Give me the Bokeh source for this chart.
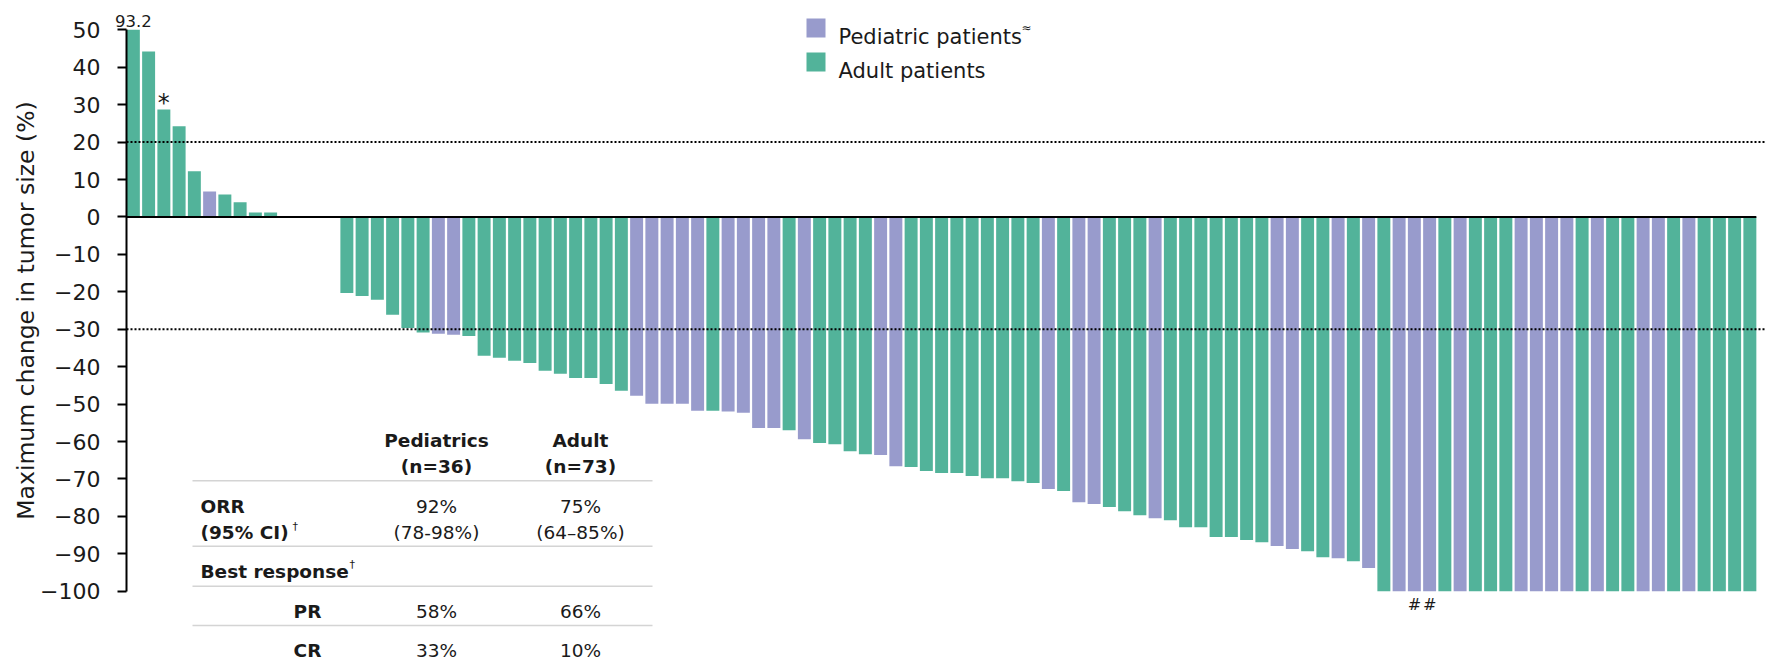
import numpy as np
from bokeh.plotting import figure
from bokeh.models import Range1d, FixedTicker, ColumnDataSource
from bokeh.embed import file_html
from bokeh.resources import INLINE
from bokeh.core.properties import value

# ---- data: best change in tumour size per patient, sorted high to low ----
growth_values = [93.2, 44.2, 28.7, 24.2, 12.2, 6.8, 6.0, 3.9, 1.2, 1.2]
growth_groups = ["A", "A", "A", "A", "A", "P", "A", "A", "A", "A"]

stable_values = [0.0, 0.0, 0.0, 0.0]
stable_groups = ["A", "A", "A", "A"]

shrink_values = [
    -20.3, -21.1, -22.1, -26.1, -29.7, -30.9, -31.2, -31.5, -31.8, -37.1,
    -37.6, -38.4, -39.0, -41.1, -41.9, -43.0, -43.0, -44.6, -46.4, -47.8,
    -49.9, -49.9, -49.9, -51.8, -51.8, -52.0, -52.3, -56.4, -56.4, -57.0,
    -59.4, -60.4, -60.7, -62.6, -63.4, -63.6, -66.6, -66.8, -67.9, -68.4,
    -68.4, -69.2, -69.8, -69.8, -70.6, -71.1, -72.7, -73.2, -76.2, -76.7,
    -77.5, -78.6, -79.7, -80.5, -81.0, -82.9, -82.9, -85.5, -85.5, -86.3,
    -86.9, -87.9, -88.7, -89.3, -90.9, -91.2, -92.0, -93.8, -100, -100,
    -100, -100, -100, -100, -100, -100, -100, -100, -100, -100,
    -100, -100, -100, -100, -100, -100, -100, -100, -100, -100,
    -100, -100, -100,
]
shrink_groups = [
    "A", "A", "A", "A", "A", "A", "P", "P", "A", "A",
    "A", "A", "A", "A", "A", "A", "A", "A", "A", "P",
    "P", "P", "P", "P", "A", "P", "P", "P", "P", "A",
    "P", "A", "A", "A", "A", "P", "P", "A", "A", "A",
    "A", "A", "A", "A", "A", "A", "P", "A", "P", "P",
    "A", "A", "A", "P", "A", "A", "A", "A", "A", "A",
    "A", "P", "P", "A", "A", "P", "A", "P", "A", "P",
    "P", "P", "A", "P", "A", "A", "A", "P", "P", "P",
    "P", "A", "P", "A", "A", "P", "P", "A", "P", "A",
    "A", "A", "A",
]

axis_ticks = [50, 40, 30, 20, 10, 0, -10, -20, -30, -40, -50, -60, -70, -80, -90, -100]
axis_title = "Maximum change in tumor size (%)"
axis_top = 50            # taller bars are cut at the top of the axis
thresholds = [20, -30]   # progression / partial-response cut-offs

starred_patients = [3]        # "*"
hashed_patients = [85, 86]    # "#"

group_names = {"P": "Pediatric patients", "A": "Adult patients"}
group_colors = {"P": "#989BCC", "A": "#52B39A"}

table_header = ["Pediatrics", "Adult"]
table_n = ["(n=36)", "(n=73)"]
orr = ["92%", "75%"]
orr_ci = ["(78-98%)", "(64\u201385%)"]
pr_rate = ["58%", "66%"]
cr_rate = ["33%", "10%"]

# ---- assemble ----
values = np.array(growth_values + stable_values + shrink_values, dtype=float)
groups = growth_groups + stable_groups + shrink_groups
patient = np.arange(1, len(values) + 1)
BAR_W = 0.85
AXIS_X = patient[0] - 0.45   # y axis sits just left of the first bar

src = ColumnDataSource(dict(
    x=patient,
    top=np.minimum(values, axis_top),
    color=[group_colors[g] for g in groups],
))

# frame geometry: the frame covers the whole canvas, the axis is pinned inside it
W, H = 1766, 663
AXIS_PX = 126
PX_PER_X = 15.25
PX_PER_Y = 3.743
X_START = AXIS_X - AXIS_PX / PX_PER_X
X_END = X_START + W / PX_PER_X
Y_END = 50 + 29.3 / PX_PER_Y
Y_START = Y_END - H / PX_PER_Y


def fx(px):
    return X_START + px / PX_PER_X


def fy(py):
    return Y_END - py / PX_PER_Y


FONT = value("DejaVu Sans")
INK = "#1a1a1a"

p = figure(
    width=W, height=H,
    x_range=Range1d(X_START, X_END), y_range=Range1d(Y_START, Y_END),
    x_axis_type=None, output_backend="svg", toolbar_location=None,
    min_border=0,
)
p.outline_line_color = None
p.grid.visible = False
p.background_fill_color = "white"

p.vbar(x="x", top="top", bottom=0, width=BAR_W, source=src,
       fill_color="color", line_color=None)

# zero line under the bars' full extent
p.segment(x0=[AXIS_X], y0=[0], x1=[patient[-1] + BAR_W / 2], y1=[0],
          line_color="black", line_width=2)

# dotted threshold lines from the axis to the right edge
p.segment(x0=[AXIS_X] * len(thresholds), y0=thresholds,
          x1=[X_END] * len(thresholds), y1=thresholds,
          line_color="black", line_width=2, line_dash="2 2")

ax = p.yaxis[0]
ax.fixed_location = AXIS_X
ax.ticker = FixedTicker(ticks=axis_ticks)
ax.bounds = (min(axis_ticks), max(axis_ticks))
ax.axis_line_width = 2
ax.axis_line_color = "black"
ax.major_tick_line_width = 2
ax.major_tick_in = 0
ax.major_tick_out = 9
ax.minor_tick_line_color = None
ax.major_label_standoff = 17
ax.major_label_text_font = "DejaVu Sans"
ax.major_label_text_font_size = "22px"
ax.major_label_text_color = INK

# axis title, centred on the axis bounds
p.text(x=[fx(25)], y=[(max(axis_ticks) + min(axis_ticks)) / 2], text=[axis_title],
       angle=np.pi / 2, text_font=FONT, text_font_size="23.5px", text_color=INK,
       text_align="center", text_baseline="middle")

# value of the truncated bar
over = np.where(values > axis_top)[0]
p.text(x=patient[over], y=[axis_top] * len(over),
       text=[f"{values[i]:.1f}" for i in over],
       text_font=FONT, text_font_size="16.5px", text_color=INK,
       text_align="center", text_baseline="bottom", y_offset=-3)

# footnote markers
star_idx = np.array(starred_patients) - 1
p.text(x=patient[star_idx], y=values[star_idx], text=["*"] * len(star_idx),
       text_font=FONT, text_font_size="24px", text_color=INK,
       text_align="center", text_baseline="alphabetic", y_offset=-7)
hash_idx = np.array(hashed_patients) - 1
p.text(x=patient[hash_idx], y=values[hash_idx], text=["#"] * len(hash_idx),
       text_font=FONT, text_font_size="16px", text_font_style="italic",
       text_color=INK, text_align="center", text_baseline="top", y_offset=4)

# legend
for i, key in enumerate(["P", "A"]):
    cy = 27.5 + 34 * i
    p.rect(x=[fx(815.5)], y=[fy(cy)], width=19, height=19,
           width_units="screen", height_units="screen",
           fill_color=group_colors[key], line_color=None)
    p.text(x=[fx(838)], y=[fy(cy + 9)], text=[group_names[key]],
           text_font=FONT, text_font_size="21px", text_color=INK,
           text_align="left", text_baseline="alphabetic")
p.text(x=[fx(1021)], y=[fy(27)], text=["\u2248"], text_font=FONT,
       text_font_size="12px", text_color=INK, text_align="left",
       text_baseline="alphabetic")

# summary table
col_x = [436, 580]
rules_y = [480.3, 545.7, 585.7, 625]
p.segment(x0=[fx(192)] * 4, x1=[fx(652)] * 4,
          y0=[fy(r) for r in rules_y], y1=[fy(r) for r in rules_y],
          line_color="#d4d4d4", line_width=1.5)

TS = "18.5px"
cx = [fx(c) for c in col_x]
p.text(x=cx, y=[fy(440)] * 2, text=table_header, text_font=FONT,
       text_font_size=TS, text_font_style="bold", text_color=INK,
       text_align="center", text_baseline="alphabetic")
p.text(x=cx, y=[fy(466)] * 2, text=table_n, text_font=FONT,
       text_font_size=TS, text_font_style="bold", text_color=INK,
       text_align="center", text_baseline="alphabetic")
for row, base in ((orr, 506), (orr_ci, 531.7), (pr_rate, 611), (cr_rate, 650)):
    p.text(x=cx, y=[fy(base)] * 2, text=row, text_font=FONT,
           text_font_size=TS, text_color=INK,
           text_align="center", text_baseline="alphabetic")

p.text(x=[fx(200)] * 3, y=[fy(506), fy(531.7), fy(571)],
       text=["ORR", "(95% CI)", "Best response"], text_font=FONT,
       text_font_size=TS, text_font_style="bold", text_color=INK,
       text_align="left", text_baseline="alphabetic")
p.text(x=[fx(292), fx(349)], y=[fy(526), fy(564)], text=["\u2020", "\u2020"],
       text_font=FONT, text_font_size="11px", text_color=INK,
       text_align="left", text_baseline="alphabetic")
p.text(x=[fx(307)] * 2, y=[fy(611), fy(650)], text=["PR", "CR"], text_font=FONT,
       text_font_size=TS, text_font_style="bold", text_color=INK,
       text_align="center", text_baseline="alphabetic")

with open("out.html", "w") as f:
    f.write(file_html(p, INLINE))
